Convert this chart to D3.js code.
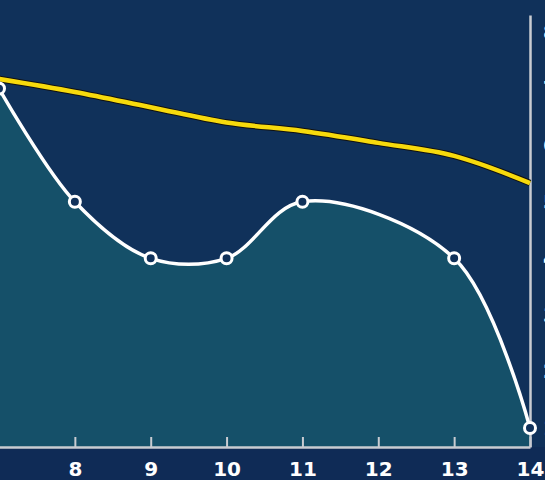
<!DOCTYPE html>
<html>
<head>
<meta charset="utf-8"/>
<script src="https://d3js.org/d3.v7.min.js"></script>
<style>
  html, body { margin: 0; padding: 0; background: #0f2b56; overflow: hidden; }
  svg { display: block; }
</style>
</head>
<body>
<div id="chart"></div>
<script>
// data
var weeks = [7, 8, 9, 10, 11, 12, 13, 14];
var rankValues = [7, 5, 4, 4, 5, null, 4, 1];
var trendValues = [7.17, 6.94, 6.67, 6.4, 6.25, 6.04, 5.81, 5.33];
var yTicks = [1, 2, 3, 4, 5, 6, 7, 8];

var w = 545, h = 480;
var plotTop = 15, plotBottom = 447, plotRight = 530;
var fontFam = "DejaVu Sans, Arial, sans-serif";

var svg = d3.select("#chart").append("svg")
    .attr("width", w)
    .attr("height", h);

svg.append("rect")
    .attr("width", w).attr("height", plotBottom)
    .attr("fill", "#10315a");

var x = d3.scaleLinear().domain([7, 14]).range([-1, plotRight]);
var y = d3.scaleLinear().domain([0.665, 8.3]).range([plotBottom, plotTop]);

var pts = weeks.map(function(d, i) { return {x: d, v: rankValues[i]}; })
    .filter(function(d) { return d.v != null; });
var trend = weeks.map(function(d, i) { return {x: d, v: trendValues[i]}; });

var curve = d3.curveCatmullRom.alpha(0.5);

// area under white line
svg.append("path")
    .datum(pts)
    .attr("fill", "#155069")
    .attr("d", d3.area()
        .x(function(d) { return x(d.x); })
        .y0(plotBottom)
        .y1(function(d) { return y(d.v); })
        .curve(curve));

// x axis
var xAxis = svg.append("g")
    .attr("transform", "translate(0," + plotBottom + ")")
    .call(d3.axisBottom(x).tickValues(weeks.slice(1)).tickFormat(d3.format("d"))
        .tickSizeInner(-10).tickSizeOuter(0).tickPadding(15));
xAxis.select(".domain").attr("stroke", "#c9ccd2").attr("stroke-width", 2.5);
xAxis.selectAll(".tick line").attr("stroke", "#c9ccd2").attr("stroke-width", 2);
xAxis.selectAll(".tick text").attr("font-size", 20).attr("fill", "#fff")
    .attr("font-family", fontFam).attr("font-weight", "bold");

// right axis (labels run off the right edge, as in the original)
var yAxis = svg.append("g")
    .attr("transform", "translate(" + plotRight + ",0)")
    .call(d3.axisRight(y).tickValues(yTicks).tickFormat(d3.format("d")).tickSize(0).tickPadding(13));
yAxis.select(".domain").attr("stroke", "#c9ccd2").attr("stroke-width", 2.5);
yAxis.selectAll(".tick text").attr("font-size", 20).attr("fill", "#fff")
    .attr("font-family", fontFam).attr("font-weight", "bold");

// yellow trend line with dark outline
var trendLine = d3.line()
    .x(function(d) { return x(d.x); })
    .y(function(d) { return y(d.v); })
    .curve(curve);
svg.append("path").datum(trend)
    .attr("fill", "none").attr("stroke", "#111").attr("stroke-width", 6.5)
    .attr("d", trendLine);
svg.append("path").datum(trend)
    .attr("fill", "none").attr("stroke", "#f7da0c").attr("stroke-width", 4.5)
    .attr("d", trendLine);

// white rank line
svg.append("path").datum(pts)
    .attr("fill", "none").attr("stroke", "#fff").attr("stroke-width", 3.5)
    .attr("d", d3.line()
        .x(function(d) { return x(d.x); })
        .y(function(d) { return y(d.v); })
        .curve(curve));

svg.selectAll("circle.pt")
    .data(pts)
    .enter().append("circle")
    .attr("class", "pt")
    .attr("cx", function(d) { return x(d.x); })
    .attr("cy", function(d) { return y(d.v); })
    .attr("r", 5.5)
    .attr("fill", "#10315a")
    .attr("stroke", "#fff")
    .attr("stroke-width", 3);
</script>
</body>
</html>
